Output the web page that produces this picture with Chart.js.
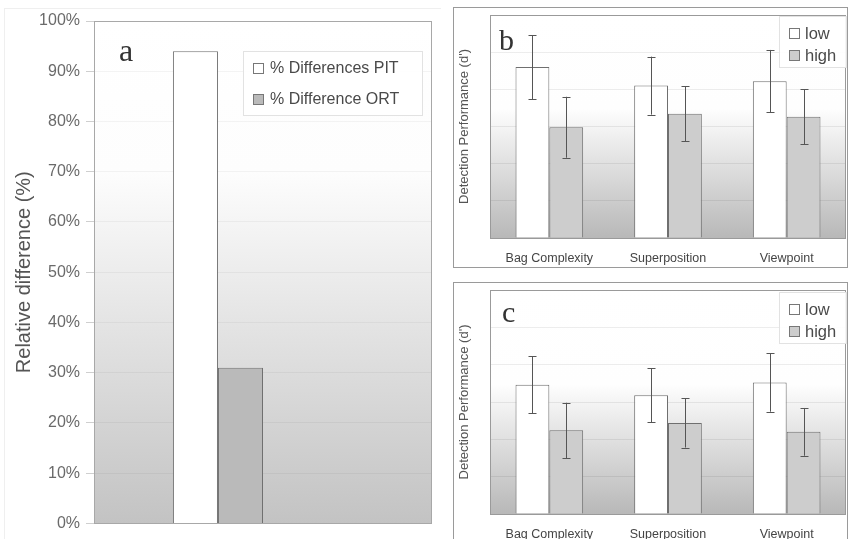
<!DOCTYPE html>
<html>
<head>
<meta charset="utf-8">
<script src="https://cdn.jsdelivr.net/npm/chart.js@4"></script>
<style>
  body { margin: 0; background: #fff; width: 850px; height: 539px; overflow: hidden; position: relative; }
  .panel { position: absolute; box-sizing: border-box; }
  #pa { left: 0; top: 0; width: 445px; height: 539px; }
  #pb { left: 453px; top: 7px; width: 395px; height: 261px; border: 1px solid #9a9a9a; }
  #pc { left: 453px; top: 282px; width: 395px; height: 262px; border: 1px solid #9a9a9a; }
  .frameA { position: absolute; left: 4px; top: 8px; width: 436px; height: 540px; border-top: 1px solid #efefef; border-left: 1px solid #efefef; }
</style>
</head>
<body>
<div class="frameA"></div>
<div class="panel" id="pa"><canvas id="chartA"></canvas></div>
<div class="panel" id="pb"><canvas id="chartB"></canvas></div>
<div class="panel" id="pc"><canvas id="chartC"></canvas></div>
<script>
// panel a
const groupA = [''];
const pitValues = [94];
const ortValues = [31];

// panels b and c
const conditions = ['Bag Complexity', 'Superposition', 'Viewpoint'];
const bLow = [2.30, 2.05, 2.11];
const bLowErr = [0.43, 0.39, 0.42];
const bHigh = [1.49, 1.67, 1.63];
const bHighErr = [0.41, 0.37, 0.37];
const cLow = [1.73, 1.59, 1.76];
const cLowErr = [0.38, 0.36, 0.39];
const cHigh = [1.12, 1.22, 1.10];
const cHighErr = [0.37, 0.33, 0.32];

const SANS = "'Liberation Sans', Arial, sans-serif";
const SERIF = "'Liberation Serif', 'Times New Roman', serif";
Chart.defaults.font.family = SANS;

// gradient fill behind the plot + frame round it
const plotBg = {
  id: 'plotBg',
  beforeDraw(chart, args, opts) {
    const { ctx, chartArea: a } = chart;
    const g = ctx.createLinearGradient(0, a.top, 0, a.bottom);
    opts.stops.forEach(s => g.addColorStop(s[0], s[1]));
    ctx.save();
    ctx.fillStyle = g;
    ctx.fillRect(a.left, a.top, a.right - a.left, a.bottom - a.top);
    ctx.restore();
  },
  beforeDatasetsDraw(chart, args, opts) {
    const { ctx, chartArea: a } = chart;
    ctx.save();
    ctx.strokeStyle = opts.frame;
    ctx.lineWidth = 1;
    ctx.strokeRect(Math.round(a.left) + 0.5, Math.round(a.top) + 0.5,
      Math.round(a.right - a.left) - 1, Math.round(a.bottom - a.top));
    ctx.restore();
  }
};

// error bars from dataset.errors
const errorBars = {
  id: 'errorBars',
  afterDatasetsDraw(chart) {
    const { ctx } = chart;
    const y = chart.scales.y;
    ctx.save();
    ctx.strokeStyle = '#555';
    ctx.lineWidth = 1;
    chart.data.datasets.forEach((ds, i) => {
      if (!ds.errors) return;
      chart.getDatasetMeta(i).data.forEach((bar, j) => {
        const x = Math.round(bar.x) + 0.5;
        const top = y.getPixelForValue(ds.data[j] + ds.errors[j]);
        const bot = y.getPixelForValue(ds.data[j] - ds.errors[j]);
        ctx.beginPath();
        ctx.moveTo(x, top); ctx.lineTo(x, bot);
        ctx.moveTo(x - 4, Math.round(top) + 0.5); ctx.lineTo(x + 4, Math.round(top) + 0.5);
        ctx.moveTo(x - 4, Math.round(bot) + 0.5); ctx.lineTo(x + 4, Math.round(bot) + 0.5);
        ctx.stroke();
      });
    });
    ctx.restore();
  }
};

// legend box inside the plot and panel letter
const boxLegend = {
  id: 'boxLegend',
  afterDraw(chart, args, o) {
    const { ctx } = chart;
    ctx.save();
    ctx.fillStyle = 'rgba(255,255,255,0.9)';
    ctx.fillRect(o.x, o.y, o.w, o.h);
    ctx.strokeStyle = '#e2e2e2';
    ctx.strokeRect(o.x + 0.5, o.y + 0.5, o.w - 1, o.h - 1);
    ctx.font = o.size + 'px ' + SANS;
    ctx.textBaseline = 'middle';
    const items = chart.data.datasets.filter(d => d.label);
    items.forEach((d, k) => {
      const cy = o.y + o.first + k * o.gap;
      ctx.fillStyle = d.backgroundColor;
      ctx.fillRect(o.x + o.mx, cy - 5, 11, 11);
      ctx.strokeStyle = '#777';
      ctx.strokeRect(o.x + o.mx + 0.5, cy - 4.5, 10, 10);
      ctx.fillStyle = '#4a4a4a';
      ctx.fillText(d.label, o.x + o.tx, cy + 1);
    });
    ctx.font = o.letterSize + 'px ' + SERIF;
    ctx.fillStyle = '#333';
    ctx.textBaseline = 'alphabetic';
    ctx.fillText(o.letter, o.lx, o.ly);
    ctx.restore();
  }
};

new Chart(document.getElementById('chartA'), {
  type: 'bar',
  data: {
    labels: groupA,
    datasets: [
      { label: '% Differences PIT', data: pitValues, backgroundColor: '#ffffff', borderColor: '#707070', borderWidth: 1 },
      { label: '% Difference ORT', data: ortValues, backgroundColor: '#bababa', borderColor: '#707070', borderWidth: 1 },
      { label: '', data: [null] },
      { label: '', data: [null] }
    ]
  },
  options: {
    animation: false,
    responsive: true,
    maintainAspectRatio: false,
    layout: { padding: { top: 21, right: 13, bottom: 13, left: 0 } },
    datasets: { bar: { categoryPercentage: 0.533, barPercentage: 1 } },
    plugins: {
      legend: { display: false },
      tooltip: { enabled: false },
      plotBg: { stops: [[0, '#ffffff'], [0.3, '#fdfdfd'], [1, '#c3c3c3']], frame: '#a8a8a8' },
      boxLegend: { x: 243, y: 51, w: 180, h: 65, first: 17, gap: 31, mx: 10, tx: 27, size: 16,
        letter: 'a', letterSize: 32, lx: 119, ly: 61 }
    },
    scales: {
      x: { display: false },
      y: {
        min: 0, max: 100,
        afterFit: s => { s.width = 94; },
        border: { display: false },
        grid: { color: 'rgba(0,0,0,0.045)', tickColor: '#cfcfcf', tickLength: 8 },
        ticks: { stepSize: 10, padding: 6, color: '#6a6a6a', font: { size: 16 }, callback: v => v + '%' },
        title: { display: true, text: 'Relative difference (%)', color: '#555', font: { size: 20 }, padding: { top: 12, bottom: 0 } }
      }
    }
  },
  plugins: [plotBg, errorBars, boxLegend]
});

function detectionChart(id, low, lowErr, high, highErr, legendPos, letter) {
  return new Chart(document.getElementById(id), {
    type: 'bar',
    data: {
      labels: conditions,
      datasets: [
        { label: 'low', data: low, errors: lowErr, backgroundColor: '#ffffff', borderColor: '#6f6f6f', borderWidth: 1 },
        { label: 'high', data: high, errors: highErr, backgroundColor: '#cdcdcd', borderColor: '#6f6f6f', borderWidth: 1 }
      ]
    },
    options: {
      animation: false,
      responsive: true,
      maintainAspectRatio: false,
      layout: { padding: { top: 7, right: 1, bottom: 0, left: 0 } },
      datasets: { bar: { categoryPercentage: 0.57, barPercentage: 1 } },
      plugins: {
        legend: { display: false },
        tooltip: { enabled: false },
        plotBg: { stops: [[0, '#ffffff'], [0.42, '#fefefe'], [1, '#b8b8b8']], frame: '#9a9a9a' },
        boxLegend: Object.assign({ w: 68, h: 52, first: 17, gap: 22, mx: 10, tx: 26, size: 16.5,
          letter: letter, letterSize: 30 }, legendPos)
      },
      scales: {
        x: {
          afterFit: s => { s.height = 29; },
          border: { display: false },
          grid: { display: false, drawTicks: false },
          ticks: { padding: 13, color: '#444', font: { size: 12.5 } }
        },
        y: {
          min: 0, max: 3,
          afterFit: s => { s.width = 36; },
          border: { display: false },
          grid: { color: 'rgba(0,0,0,0.07)', drawTicks: false },
          ticks: { display: false, stepSize: 0.5 },
          title: { display: true, text: "Detection Performance (d')", color: '#555', font: { size: 13 }, padding: { top: 3, bottom: 0 } }
        }
      }
    },
    plugins: [plotBg, errorBars, boxLegend]
  });
}

detectionChart('chartB', bLow, bLowErr, bHigh, bHighErr, { x: 325, y: 8, lx: 45, ly: 42 }, 'b');
detectionChart('chartC', cLow, cLowErr, cHigh, cHighErr, { x: 325, y: 9, lx: 48, ly: 39 }, 'c');
</script>
</body>
</html>
